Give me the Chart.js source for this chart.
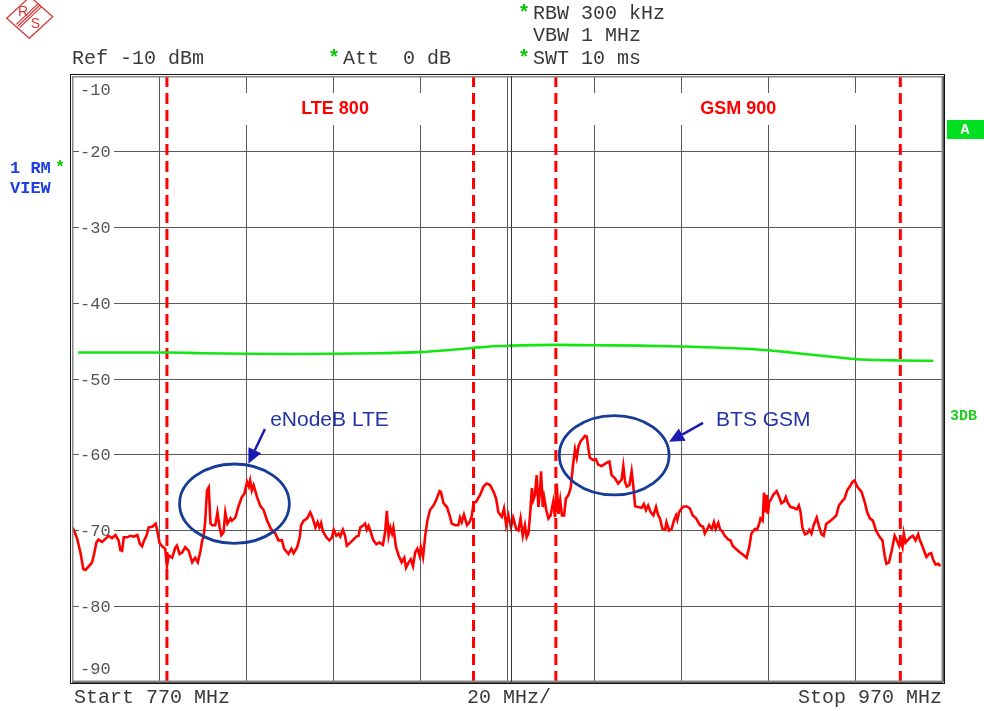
<!DOCTYPE html>
<html>
<head>
<meta charset="utf-8">
<script src="https://cdn.jsdelivr.net/npm/chart.js@4.4.1/dist/chart.umd.min.js"></script>
<style>
html,body{margin:0;padding:0;background:#fff;}
canvas{display:block;}
</style>
</head>
<body>
<canvas id="c" width="984" height="711"></canvas>
<script>
// ---- data ----
const freqStart = 770, freqStop = 970, freqStep = 20;
const refLevel = -10, bottomLevel = -90, levelStep = 10;
const yTickValues = [-10, -20, -30, -40, -50, -60, -70, -80, -90];

const traceFreq = [770.0,770.4,771.2,772.0,772.6,773.1,773.9,774.6,775.0,775.6,776.1,776.9,777.7,778.4,779.2,780.0,780.7,781.1,781.5,781.9,782.7,783.4,784.2,785.0,785.6,786.1,786.5,787.1,787.6,788.4,789.2,789.5,790.1,790.7,791.4,791.8,792.2,793.0,793.7,794.1,794.7,795.3,796.0,796.8,797.6,798.3,798.9,799.5,799.9,800.2,800.6,801.0,801.4,801.8,802.2,802.9,803.4,803.9,804.3,804.8,805.2,805.7,806.4,806.7,807.5,808.3,809.0,809.6,810.2,810.6,810.9,811.3,811.7,812.5,813.2,814.0,814.8,815.7,816.7,817.4,818.2,818.7,819.7,820.4,820.9,821.7,822.3,822.6,823.2,824.0,824.7,825.3,825.9,826.4,826.8,827.2,827.6,828.4,829.1,829.7,830.1,830.7,831.2,831.6,832.2,832.7,833.1,833.9,834.6,835.3,835.8,836.2,836.9,837.3,837.7,838.1,838.6,839.2,839.9,840.6,841.4,841.9,842.3,842.7,843.1,843.5,843.8,844.4,845.0,845.7,846.3,846.7,847.3,847.8,848.3,848.8,849.3,849.8,850.1,850.6,851.1,851.6,852.2,853.0,853.6,854.4,854.7,855.3,856.1,856.7,857.2,858.0,858.7,859.1,859.5,860.0,860.7,861.3,861.8,862.2,862.8,863.7,864.5,865.2,866.0,866.8,867.4,867.9,868.7,869.2,869.7,870.2,870.8,871.3,872.0,872.5,873.0,873.5,874.0,874.4,874.8,875.2,875.6,875.9,876.3,876.7,877.1,877.5,877.7,878.1,878.4,878.9,879.4,879.9,880.5,880.9,881.3,881.7,882.1,882.5,883.0,883.4,884.0,884.5,885.0,885.5,885.9,886.3,886.8,887.4,887.8,888.2,888.6,888.9,889.7,890.3,890.8,891.6,892.4,892.9,893.4,893.9,894.7,895.4,896.2,896.6,897.0,897.4,898.0,898.5,898.9,899.3,900.0,900.8,901.3,901.8,902.3,902.9,903.5,904.1,904.6,905.0,905.6,906.2,906.5,907.1,907.7,908.2,908.7,909.0,909.4,910.2,911.1,911.9,912.5,913.3,914.2,914.9,915.3,915.9,916.3,916.9,917.4,917.8,918.4,918.8,919.4,919.9,920.7,921.2,921.7,922.4,923.4,924.1,924.9,925.5,926.0,926.8,927.3,927.8,928.1,928.6,928.9,929.2,929.5,929.8,930.1,930.4,931.0,931.8,932.4,932.9,933.5,933.9,934.4,935.0,935.7,936.4,936.9,937.3,937.7,938.3,938.8,939.3,939.8,940.3,941.0,941.6,942.1,942.6,943.2,944.0,944.8,945.5,946.1,946.9,947.4,948.0,948.6,949.2,949.7,950.3,951.3,952.0,952.6,953.2,953.9,954.6,955.5,956.1,956.6,957.0,957.6,958.2,958.9,959.4,959.9,960.2,960.7,961.0,961.4,962.0,962.5,963.1,963.7,964.3,964.7,965.3,965.8,966.2,966.8,967.3,967.7,968.3,968.9,969.4];
const traceDb = [-69.6,-69.9,-71.1,-73.1,-75.1,-75.2,-74.7,-74.2,-73.3,-71.6,-71.2,-71.5,-71.1,-70.7,-71.0,-70.6,-71.3,-72.6,-72.7,-70.9,-70.9,-70.7,-70.8,-70.6,-71.8,-72.1,-71.4,-70.7,-69.6,-69.5,-69.1,-69.8,-71.6,-72.1,-72.4,-74.7,-73.3,-73.6,-72.3,-72.0,-73.1,-72.9,-72.2,-72.7,-74.2,-73.6,-74.2,-72.7,-71.3,-70.9,-68.7,-64.7,-64.3,-69.1,-69.3,-69.3,-67.6,-69.6,-70.6,-70.2,-67.6,-69.1,-68.4,-68.7,-68.3,-66.7,-65.6,-65.1,-63.6,-64.2,-63.4,-64.7,-64.0,-65.6,-66.7,-67.3,-68.7,-69.8,-70.4,-71.3,-71.3,-72.4,-73.1,-72.4,-73.0,-72.2,-70.9,-69.3,-68.7,-68.4,-67.6,-68.4,-69.6,-68.9,-69.6,-69.0,-70.1,-70.9,-71.3,-70.9,-69.9,-70.7,-70.4,-70.8,-69.9,-70.7,-72.0,-71.6,-71.2,-70.8,-70.7,-69.6,-69.3,-69.1,-69.9,-69.4,-70.2,-71.3,-71.8,-71.6,-71.9,-70.2,-67.4,-70.7,-69.6,-70.4,-69.6,-72.2,-73.3,-74.2,-73.6,-74.9,-74.2,-73.8,-74.7,-72.9,-72.4,-73.3,-72.2,-73.5,-70.7,-68.7,-67.3,-66.7,-66.0,-64.8,-64.9,-66.4,-66.9,-68.0,-69.1,-69.3,-69.3,-68.3,-68.9,-67.9,-69.3,-68.9,-68.1,-66.4,-66.2,-65.3,-64.2,-63.8,-64.0,-64.9,-65.8,-67.6,-68.2,-67.1,-69.3,-68.0,-69.6,-68.3,-69.8,-70.0,-68.4,-70.7,-69.3,-70.9,-70.4,-67.8,-64.4,-66.0,-65.3,-62.7,-66.9,-64.4,-62.2,-66.9,-65.6,-67.3,-68.4,-68.0,-66.2,-68.2,-63.8,-67.8,-66.0,-68.0,-68.0,-65.8,-65.3,-64.4,-61.6,-59.3,-60.4,-58.9,-58.2,-57.8,-57.5,-57.6,-59.3,-60.4,-60.7,-60.6,-61.3,-61.5,-61.2,-61.0,-60.9,-62.7,-63.1,-63.8,-63.3,-61.5,-63.6,-64.2,-64.0,-62.2,-64.2,-66.8,-66.9,-67.0,-66.5,-67.3,-66.7,-67.6,-68.0,-66.9,-68.0,-68.4,-69.8,-69.9,-68.9,-70.0,-69.8,-68.7,-68.0,-68.6,-67.6,-66.9,-66.8,-67.1,-68.0,-68.4,-69.3,-69.5,-70.4,-69.8,-69.3,-69.8,-68.9,-69.8,-69.0,-69.8,-70.2,-70.7,-71.2,-71.3,-72.0,-72.4,-72.9,-73.2,-73.6,-72.2,-70.4,-69.8,-69.9,-69.1,-68.4,-68.7,-65.0,-67.6,-65.3,-67.8,-66.2,-66.0,-65.3,-64.8,-65.6,-66.4,-66.2,-65.6,-66.4,-66.9,-67.0,-67.2,-66.7,-67.6,-69.6,-70.5,-70.4,-69.9,-70.4,-69.3,-68.3,-69.6,-70.5,-70.7,-69.1,-68.8,-68.4,-68.0,-66.7,-66.1,-65.8,-64.7,-64.2,-63.6,-63.4,-64.2,-64.9,-66.2,-67.6,-68.4,-68.7,-70.0,-70.9,-71.3,-73.3,-74.4,-74.2,-72.7,-70.7,-71.3,-72.0,-71.2,-72.2,-70.4,-71.6,-71.2,-70.9,-70.7,-71.3,-70.5,-71.3,-72.1,-72.9,-73.5,-73.1,-73.0,-73.8,-74.5,-74.4,-74.7];

const refLineFreq = [771.4,780,791.9,800,809.9,820,829.9,840,849.8,856,862,866,870.5,880.8,889.7,900,909.7,920,929.7,935,939.9,945,950.3,955,959.9,967.7];
const refLineDb = [-46.5,-46.5,-46.5,-46.6,-46.67,-46.7,-46.67,-46.6,-46.45,-46.2,-45.9,-45.7,-45.6,-45.5,-45.55,-45.6,-45.7,-45.9,-46.2,-46.5,-46.8,-47.1,-47.4,-47.5,-47.55,-47.6];

const markerFreqs = [791.8, 862.2, 881.1, 960.2];
const bandNames = ['LTE 800', 'GSM 900'];
const bandEdges = [[791.8, 862.2], [881.1, 960.2]];
const bandLabelFreqs = [830.4, 923.0];

// annotations, in data units (MHz, dBm)
const ellipseCenters = [[807.3, -66.46], [894.5, -60.07]];
const ellipseRadii = [12.6, 5.24];
const arrowStarts = [[814.3, -56.6], [914.9, -55.8]];
const arrowTips = [[810.5, -61.2], [907.1, -58.3]];
const noteTexts = ['eNodeB LTE', 'BTS GSM'];
const notePositions = [[815.5, -55.4], [917.9, -55.5]];

const headerLines = [
  {star: true, text: 'RBW 300 kHz', x: 533, y: 14},
  {star: false, text: 'VBW 1 MHz', x: 533, y: 36},
  {star: true, text: 'SWT 10 ms', x: 533, y: 59},
  {star: true, text: 'Att  0 dB', x: 343, y: 59},
  {star: false, text: 'Ref -10 dBm', x: 72, y: 59}
];

// ---- plugin for instrument decorations ----
const MONO = '"Liberation Mono","DejaVu Sans Mono",monospace';
const SANS = '"Liberation Sans",Arial,sans-serif';

const deco = {
  id: 'deco',
  beforeDatasetsDraw(chart) {
    const {ctx, chartArea: a, scales: {x, y}} = chart;
    ctx.save();
    ctx.fillStyle = '#fff';
    bandEdges.forEach(([f0, f1]) => {
      const x0 = x.getPixelForValue(f0), x1 = x.getPixelForValue(f1);
      ctx.fillRect(x0 + 2, a.top + 17, x1 - x0 - 4, 32);
    });
    ctx.fillStyle = '#ff0000';
    ctx.font = 'bold 18px ' + SANS;
    ctx.textAlign = 'center';
    ctx.textBaseline = 'middle';
    bandNames.forEach((n, i) => {
      ctx.fillText(n, x.getPixelForValue(bandLabelFreqs[i]), a.top + 33);
    });
    ctx.font = '17px ' + MONO;
    ctx.textAlign = 'left';
    yTickValues.forEach(v => {
      let py = y.getPixelForValue(v);
      if (v === refLevel) py += 13;
      else if (v === bottomLevel) py -= 14;
      else {
        ctx.fillStyle = '#fff';
        ctx.fillRect(a.left + 7, py - 8, 35, 16);
      }
      ctx.fillStyle = '#555';
      ctx.fillText(String(v), a.left + 8, py + 1);
    });
    ctx.restore();
  },
  afterDatasetsDraw(chart) {
    const {ctx, chartArea: a, scales: {x, y}} = chart;
    ctx.save();
    ctx.strokeStyle = '#111';
    ctx.lineWidth = 1;
    ctx.strokeRect(a.left - 1.5, a.top - 1.5, a.right - a.left + 3, a.bottom - a.top + 3);
    ctx.strokeStyle = '#888';
    ctx.lineWidth = 1.5;
    ctx.strokeRect(a.left + 0.75, a.top + 0.75, a.right - a.left - 1.5, a.bottom - a.top - 1.5);
    const cx = x.getPixelForValue((freqStart + freqStop) / 2);
    ctx.strokeStyle = '#333';
    ctx.lineWidth = 1;
    ctx.beginPath();
    ctx.moveTo(Math.round(cx) + 3.5, a.top);
    ctx.lineTo(Math.round(cx) + 3.5, a.bottom);
    ctx.stroke();

    ctx.strokeStyle = '#173c96';
    ctx.lineWidth = 2.8;
    ellipseCenters.forEach(([f, d]) => {
      const px = x.getPixelForValue(f), py = y.getPixelForValue(d);
      const rx = x.getPixelForValue(f + ellipseRadii[0]) - px;
      const ry = y.getPixelForValue(d - ellipseRadii[1]) - py;
      ctx.beginPath();
      ctx.ellipse(px, py, rx, ry, 0, 0, Math.PI * 2);
      ctx.stroke();
    });
    ctx.strokeStyle = '#1a1ab4';
    ctx.fillStyle = '#1a1ab4';
    ctx.lineWidth = 2.5;
    arrowStarts.forEach((s, i) => {
      const x0 = x.getPixelForValue(s[0]), y0 = y.getPixelForValue(s[1]);
      const x1 = x.getPixelForValue(arrowTips[i][0]), y1 = y.getPixelForValue(arrowTips[i][1]);
      const ang = Math.atan2(y1 - y0, x1 - x0);
      const L = 15, W = 7;
      const bx = x1 - L * Math.cos(ang), by = y1 - L * Math.sin(ang);
      ctx.beginPath();
      ctx.moveTo(x0, y0);
      ctx.lineTo(bx, by);
      ctx.stroke();
      ctx.beginPath();
      ctx.moveTo(x1, y1);
      ctx.lineTo(bx + W * Math.sin(ang), by - W * Math.cos(ang));
      ctx.lineTo(bx - W * Math.sin(ang), by + W * Math.cos(ang));
      ctx.closePath();
      ctx.fill();
    });
    ctx.fillStyle = '#2233a8';
    ctx.font = '21px ' + SANS;
    ctx.textAlign = 'left';
    ctx.textBaseline = 'middle';
    noteTexts.forEach((t, i) => {
      ctx.fillText(t, x.getPixelForValue(notePositions[i][0]), y.getPixelForValue(notePositions[i][1]));
    });
    ctx.restore();
  },
  afterDraw(chart) {
    const {ctx} = chart;
    ctx.save();
    ctx.textBaseline = 'middle';
    ctx.textAlign = 'left';
    headerLines.forEach(h => {
      ctx.font = '20px ' + MONO;
      ctx.fillStyle = '#3a3a3a';
      ctx.fillText(h.text, h.x, h.y);
      if (h.star) {
        ctx.font = 'bold 20px ' + MONO;
        ctx.fillStyle = '#00c800';
        ctx.fillText('*', h.x - 15, h.y);
      }
    });
    ctx.font = '20px ' + MONO;
    ctx.fillStyle = '#3a3a3a';
    ctx.fillText('Start ' + freqStart + ' MHz', 74, 698);
    ctx.fillText(freqStep + ' MHz/', 467, 698);
    ctx.textAlign = 'right';
    ctx.fillText('Stop ' + freqStop + ' MHz', 942, 698);
    ctx.textAlign = 'left';
    ctx.font = 'bold 17px ' + MONO;
    ctx.fillStyle = '#1e3ee0';
    ctx.fillText('1 RM', 10, 169);
    ctx.fillText('VIEW', 10, 189);
    ctx.fillStyle = '#00c800';
    ctx.fillText('*', 55, 168);
    ctx.fillStyle = '#00e020';
    ctx.fillRect(947, 120, 37, 19);
    ctx.fillStyle = '#fff';
    ctx.font = 'bold 15px ' + MONO;
    ctx.textAlign = 'center';
    ctx.fillText('A', 965, 130);
    ctx.fillStyle = '#22cc22';
    ctx.font = 'bold 15px ' + MONO;
    ctx.textAlign = 'left';
    ctx.fillText('3DB', 950, 416);
    // R&S logo
    ctx.strokeStyle = '#d63a3a';
    ctx.fillStyle = '#d63a3a';
    ctx.lineWidth = 1.3;
    ctx.beginPath();
    ctx.moveTo(6.7, 18.3); ctx.lineTo(30.1, -3.3); ctx.lineTo(52.7, 16.7); ctx.lineTo(29.3, 38.3);
    ctx.closePath();
    ctx.stroke();
    for (let k = -1; k <= 1; k++) {
      ctx.beginPath();
      ctx.moveTo(40 + k * 1.6, 5 + k * 1.6);
      ctx.lineTo(18 + k * 1.6, 26 + k * 1.6);
      ctx.stroke();
    }
    ctx.font = '14px ' + SANS;
    ctx.textAlign = 'center';
    ctx.fillText('R', 23, 12);
    ctx.fillText('S', 35.5, 24);
    ctx.restore();
  }
};

const pts = (fs, ds) => fs.map((f, i) => ({x: f, y: ds[i]}));
const markerSets = markerFreqs.map(f => ({
  data: [{x: f, y: refLevel}, {x: f, y: bottomLevel}],
  borderColor: '#ff0000', borderWidth: 3, borderDash: [11, 6],
  pointRadius: 0, fill: false, clip: 4
}));

new Chart(document.getElementById('c'), {
  type: 'line',
  data: {
    datasets: [
      {data: pts(traceFreq, traceDb), borderColor: '#ff0000', borderWidth: 2.6, pointRadius: 0, tension: 0, fill: false},
      {data: pts(refLineFreq, refLineDb), borderColor: '#14e614', borderWidth: 2.6, pointRadius: 0, cubicInterpolationMode: 'monotone', fill: false},
      ...markerSets
    ]
  },
  options: {
    responsive: false,
    animation: false,
    devicePixelRatio: 1,
    layout: {padding: {left: 72, right: 41, top: 76, bottom: 29}},
    plugins: {legend: {display: false}, tooltip: {enabled: false}},
    scales: {
      x: {
        type: 'linear', min: freqStart, max: freqStop,
        ticks: {display: false, stepSize: freqStep},
        grid: {color: '#5a5a5a', lineWidth: 1, drawTicks: false},
        border: {display: false}
      },
      y: {
        type: 'linear', min: bottomLevel, max: refLevel,
        ticks: {display: false, stepSize: levelStep},
        grid: {color: '#5a5a5a', lineWidth: 1, drawTicks: false},
        border: {display: false}
      }
    }
  },
  plugins: [deco]
});
</script>
</body>
</html>
